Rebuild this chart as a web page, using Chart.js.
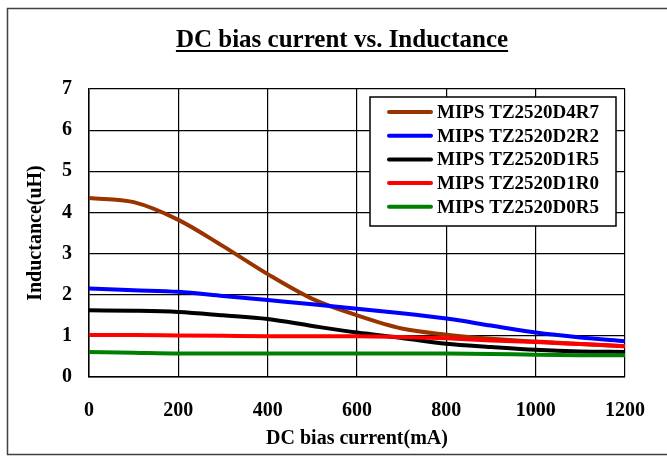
<!DOCTYPE html>
<html>
<head>
<meta charset="utf-8">
<script src="https://cdn.jsdelivr.net/npm/chart.js@4/dist/chart.umd.min.js"></script>
<style>
  body { margin: 0; background: #fff; }
  canvas { display: block; }
</style>
</head>
<body>
<canvas id="myChart" width="667" height="457"></canvas>
<script>
// DC bias current (mA)
const currents = [0, 100, 200, 300, 400, 500, 600, 700, 800, 900, 1000, 1100, 1200];

// inductance (uH) per part
const d4r7 = [4.35, 4.25, 3.82, 3.18, 2.5, 1.9, 1.5, 1.18, 1.03, 0.93, 0.86, 0.8, 0.75];
const d2r2 = [2.15, 2.11, 2.07, 1.97, 1.87, 1.77, 1.66, 1.55, 1.42, 1.25, 1.08, 0.96, 0.87];
const d1r5 = [1.62, 1.61, 1.58, 1.5, 1.41, 1.24, 1.08, 0.95, 0.81, 0.73, 0.66, 0.62, 0.61];
const d1r0 = [1.02, 1.02, 1.01, 1.0, 0.99, 0.99, 0.99, 0.97, 0.94, 0.89, 0.85, 0.8, 0.75];
const d0r5 = [0.61, 0.59, 0.57, 0.57, 0.57, 0.57, 0.57, 0.57, 0.57, 0.56, 0.54, 0.53, 0.53];

const seriesNames = ["MIPS TZ2520D4R7", "MIPS TZ2520D2R2", "MIPS TZ2520D1R5", "MIPS TZ2520D1R0", "MIPS TZ2520D0R5"];
const seriesColors = ["#993300", "#0000ff", "#000000", "#ff0000", "#008000"];
const seriesValues = [d4r7, d2r2, d1r5, d1r0, d0r5];

const titleText = "DC bias current vs. Inductance";
const serif = "'Liberation Serif', 'Times New Roman', serif";

// title with underline, outer frame
const frame = {
  id: "frame",
  afterDraw(chart) {
    const ctx = chart.ctx;
    ctx.save();
    ctx.strokeStyle = "#404040";
    ctx.lineWidth = 1.5;
    ctx.strokeRect(7.5, 8.5, 670, 446);

    ctx.font = "bold 25px " + serif;
    ctx.fillStyle = "#000";
    ctx.textAlign = "center";
    ctx.textBaseline = "alphabetic";
    const tx = 342, ty = 47;
    ctx.fillText(titleText, tx, ty);
    const w = ctx.measureText(titleText).width;
    ctx.fillRect(tx - w / 2, ty + 3, w, 2);
    ctx.restore();
  }
};

// legend box inside the plot
const legendBox = {
  id: "legendBox",
  afterDatasetsDraw(chart) {
    const ctx = chart.ctx;
    const area = chart.chartArea;
    const x = area.right - 255, y = area.top + 8, w = 246, h = 129;
    ctx.save();
    ctx.fillStyle = "#fff";
    ctx.fillRect(x, y, w, h);
    ctx.strokeStyle = "#000";
    ctx.lineWidth = 1.5;
    ctx.strokeRect(x, y, w, h);
    ctx.font = "bold 19px " + serif;
    ctx.textBaseline = "middle";
    ctx.textAlign = "left";
    chart.data.datasets.forEach((ds, i) => {
      const ly = y + 15 + i * 23.7;
      ctx.strokeStyle = ds.borderColor;
      ctx.lineWidth = 4;
      ctx.lineCap = "round";
      ctx.beginPath();
      ctx.moveTo(x + 19, ly);
      ctx.lineTo(x + 61, ly);
      ctx.stroke();
      ctx.fillStyle = "#000";
      ctx.fillText(ds.label, x + 67, ly + 1);
    });
    ctx.restore();
  }
};

const ctx = document.getElementById("myChart").getContext("2d");
const myChart = new Chart(ctx, {
  type: "line",
  data: {
    datasets: seriesNames.map((name, i) => ({
      label: name,
      data: currents.map((c, j) => ({ x: c, y: seriesValues[i][j] })),
      borderColor: seriesColors[i],
      backgroundColor: seriesColors[i],
      borderWidth: 4,
      pointRadius: 0,
      cubicInterpolationMode: "monotone",
      fill: false,
      order: seriesNames.length - i,
    })),
  },
  options: {
    responsive: false,
    animation: false,
    layout: { padding: { top: 89, left: 0, right: 39, bottom: 0 } },
    plugins: {
      legend: { display: false },
      title: { display: false },
      tooltip: { enabled: false },
    },
    scales: {
      x: {
        type: "linear",
        min: 0,
        max: 1200,
        ticks: {
          stepSize: 200,
          padding: 22,
          color: "#000",
          font: { family: serif, weight: "bold", size: 20 },
          callback: (v) => String(v),
        },
        grid: { color: "#000", lineWidth: 1.2, drawTicks: false },
        border: { color: "#000", width: 1.5 },
        title: {
          display: true,
          text: "DC bias current(mA)",
          color: "#000",
          font: { family: serif, weight: "bold", size: 20 },
          padding: { top: 0, bottom: 6 },
        },
        afterFit(scale) { scale.height = 80; },
      },
      y: {
        min: 0,
        max: 7,
        ticks: {
          stepSize: 1,
          padding: 17,
          color: "#000",
          font: { family: serif, weight: "bold", size: 20 },
        },
        grid: { color: "#000", lineWidth: 1.2, drawTicks: false },
        border: { color: "#000", width: 1.5 },
        title: {
          display: true,
          text: "Inductance(uH)",
          color: "#000",
          font: { family: serif, weight: "bold", size: 20 },
          padding: { top: 24, bottom: 0 },
        },
        afterFit(scale) { scale.width = 89; },
      },
    },
  },
  plugins: [legendBox, frame],
});
</script>
</body>
</html>
